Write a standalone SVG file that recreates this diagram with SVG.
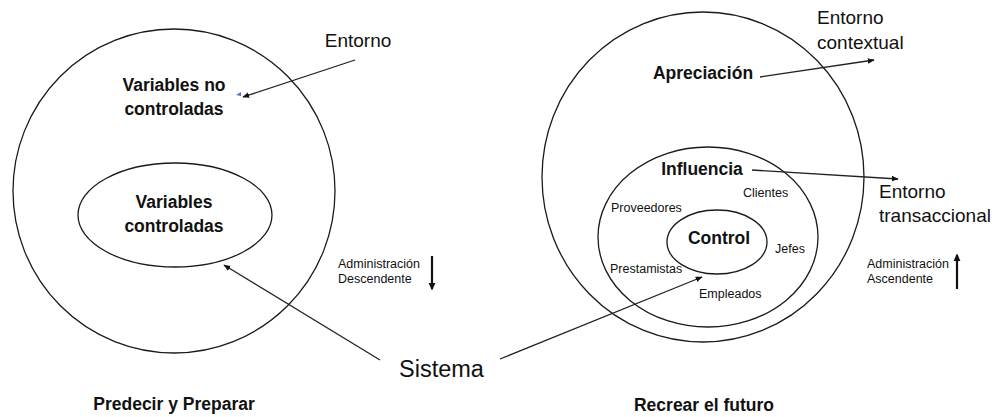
<svg xmlns="http://www.w3.org/2000/svg" width="992" height="417" viewBox="0 0 992 417">
  <style>
    .ring { fill: none; stroke: #1a1a1a; stroke-width: 1.3; }
    .link { fill: none; stroke: #222; stroke-width: 1.3; }
    .dir { fill: none; stroke: #111; stroke-width: 2.2; }
    text { font-family: "Liberation Sans", Arial, sans-serif; fill: #111; }
    .big { font-size: 17.5px; font-weight: bold; }
    .env { font-size: 19px; }
    .small { font-size: 12.5px; }
    .sys { font-size: 23.5px; }
  </style>
  <defs>
    <marker id="head" viewBox="0 0 10 10" refX="9" refY="5" markerWidth="7" markerHeight="7" markerUnits="userSpaceOnUse" orient="auto">
      <path d="M0,1 L10,5 L0,9 Z" fill="#111"/>
    </marker>
    <marker id="headBold" viewBox="0 0 10 10" refX="8" refY="5" markerWidth="8" markerHeight="8" markerUnits="userSpaceOnUse" orient="auto">
      <path d="M0,0.5 L10,5 L0,9.5 Z" fill="#111"/>
    </marker>
  </defs>

  <!-- Left model: predict and prepare -->
  <g id="uncontrolled">
    <ellipse class="ring" cx="174" cy="191" rx="161" ry="162"/>
    <text class="big" x="174" y="91" text-anchor="middle">Variables no</text>
    <text class="big" x="174" y="115" text-anchor="middle">controladas</text>
    <polygon points="236,95 241,92 241,96" fill="#4472c4"/>
  </g>
  <g id="controlled">
    <ellipse class="ring" cx="175" cy="215" rx="97" ry="52"/>
    <text class="big" x="174" y="208" text-anchor="middle">Variables</text>
    <text class="big" x="174" y="232" text-anchor="middle">controladas</text>
  </g>
  <g id="entorno-left">
    <text class="env" x="358" y="47" text-anchor="middle">Entorno</text>
  </g>
  <g id="top-down">
    <text class="small" x="338" y="268">Administración</text>
    <text class="small" x="338" y="283">Descendente</text>
    <line class="dir" x1="432" y1="256" x2="432" y2="289" marker-end="url(#headBold)"/>
  </g>
  <g id="predict-title">
    <text class="big" x="174" y="410" text-anchor="middle">Predecir y Preparar</text>
  </g>

  <!-- Shared label -->
  <g id="sistema">
    <text class="sys" x="399" y="377">Sistema</text>
  </g>

  <!-- Right model: recreate the future -->
  <g id="appreciation">
    <ellipse class="ring" cx="703" cy="177" rx="161" ry="165"/>
    <text class="big" x="703" y="79" text-anchor="middle">Apreciación</text>
  </g>
  <g id="influence">
    <ellipse class="ring" cx="708" cy="237" rx="110" ry="90"/>
    <text class="big" x="702" y="175" text-anchor="middle">Influencia</text>
    <text class="small" x="743" y="197">Clientes</text>
    <text class="small" x="611" y="212">Proveedores</text>
    <text class="small" x="775" y="253">Jefes</text>
    <text class="small" x="610" y="273">Prestamistas</text>
    <text class="small" x="699" y="298">Empleados</text>
  </g>
  <g id="control">
    <ellipse class="ring" cx="717" cy="242" rx="50" ry="32"/>
    <text class="big" x="719" y="244" text-anchor="middle">Control</text>
  </g>
  <g id="entorno-contextual">
    <text class="env" x="817" y="24">Entorno</text>
    <text class="env" x="817" y="49">contextual</text>
  </g>
  <g id="entorno-transaccional">
    <text class="env" x="879" y="198">Entorno</text>
    <text class="env" x="879" y="222">transaccional</text>
  </g>
  <g id="bottom-up">
    <text class="small" x="867" y="268">Administración</text>
    <text class="small" x="867" y="283">Ascendente</text>
    <line class="dir" x1="957" y1="289" x2="957" y2="255" marker-end="url(#headBold)"/>
  </g>
  <g id="recreate-title">
    <text class="big" x="704" y="411" text-anchor="middle">Recrear el futuro</text>
  </g>

  <!-- Connectors -->
  <g id="connectors">
    <line class="link" x1="355" y1="60" x2="243" y2="97" marker-end="url(#head)"/>
    <line class="link" x1="380" y1="360" x2="224" y2="265" marker-end="url(#head)"/>
    <line class="link" x1="500" y1="359" x2="702" y2="277" marker-end="url(#head)"/>
    <line class="link" x1="760" y1="77" x2="874" y2="60" marker-end="url(#head)"/>
    <line class="link" x1="752" y1="170" x2="898" y2="179" marker-end="url(#head)"/>
  </g>
</svg>
